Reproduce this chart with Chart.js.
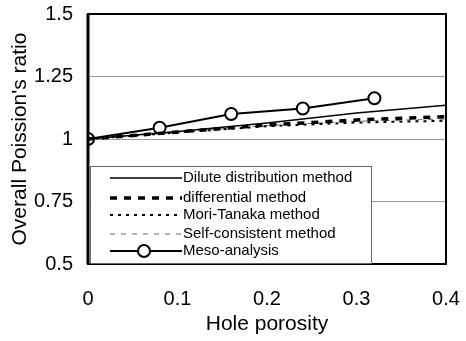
<!DOCTYPE html>
<html><head><meta charset="utf-8">
<script src="https://cdn.jsdelivr.net/npm/chart.js@4"></script>
<style>html,body{margin:0;padding:0;background:#fff}#wrap{width:466px;height:341px}</style>
</head><body><div id="wrap"><canvas id="c"></canvas></div>
<script>
const porosity = [0, 0.1, 0.2, 0.3, 0.4];
const dilute = [1.0, 1.030, 1.064, 1.104, 1.135];
const differential = [1.0, 1.028, 1.056, 1.076, 1.089];
const moriTanaka = [1.0, 1.026, 1.051, 1.066, 1.073];
const selfConsistent = [1.0, 1.027, 1.054, 1.071, 1.080];
const mesoPorosity = [0, 0.08, 0.16, 0.24, 0.32];
const meso = [1.0, 1.045, 1.100, 1.122, 1.163];
const seriesLabels = ['Dilute distribution method', 'differential method', 'Mori-Tanaka method', 'Self-consistent method', 'Meso-analysis'];
const xTicks = [0, 0.1, 0.2, 0.3, 0.4];
const yTicks = [0.5, 0.75, 1, 1.25, 1.5];

const pts = (xs, ys) => xs.map((x, i) => ({x, y: ys[i]}));
const FONT = "'Liberation Sans', Arial, sans-serif";

const boxPlugin = {
  id: 'box',
  afterDatasetsDraw(chart) {
    const {ctx, chartArea: a} = chart;
    ctx.save();
    ctx.strokeStyle = '#000';
    ctx.lineWidth = 2;
    ctx.strokeRect(a.left, a.top, a.right - a.left, a.bottom - a.top);
    ctx.lineWidth = 3;
    ctx.beginPath(); ctx.moveTo(a.left, a.top); ctx.lineTo(a.left, a.bottom); ctx.stroke();
    // legend box
    const lx = a.left + 2, lw = 281, lh = 98, ly = a.bottom - lh;
    ctx.fillStyle = '#fff';
    ctx.fillRect(lx, ly, lw, lh);
    ctx.lineWidth = 1;
    ctx.strokeStyle = '#666';
    ctx.strokeRect(lx + 0.5, ly + 0.5, lw, lh - 1);
    const rows = [178, 198, 215, 234, 251].map(v => v - 264 + a.bottom);
    ctx.font = '15px ' + FONT;
    ctx.textBaseline = 'middle';
    ctx.fillStyle = '#000';
    chart.data.datasets.forEach((ds, i) => {
      const y = rows[i];
      ctx.save();
      ctx.strokeStyle = ds.borderColor;
      ctx.lineWidth = ds.borderWidth;
      ctx.setLineDash(ds.borderDash || []);
      ctx.beginPath(); ctx.moveTo(lx + 20, y); ctx.lineTo(lx + 92, y); ctx.stroke();
      ctx.setLineDash([]);
      if (ds.pointRadius) {
        ctx.beginPath(); ctx.arc(lx + 54, y, ds.pointRadius, 0, Math.PI * 2);
        ctx.fillStyle = '#fff'; ctx.fill();
        ctx.strokeStyle = '#000'; ctx.lineWidth = ds.pointBorderWidth; ctx.stroke();
      }
      ctx.restore();
      ctx.fillText(ds.label, lx + 93, y);
    });
    ctx.restore();
  }
};

new Chart(document.getElementById('c'), {
  type: 'line',
  data: {
    datasets: [
      {label: seriesLabels[0], data: pts(porosity, dilute), borderColor: '#000', borderWidth: 1.5, pointRadius: 0},
      {label: seriesLabels[1], data: pts(porosity, differential), borderColor: '#000', borderWidth: 3.5, borderDash: [7, 7], pointRadius: 0},
      {label: seriesLabels[2], data: pts(porosity, moriTanaka), borderColor: '#000', borderWidth: 2, borderDash: [3, 5], pointRadius: 0},
      {label: seriesLabels[3], data: pts(porosity, selfConsistent), borderColor: '#666', borderWidth: 1, borderDash: [5, 6], pointRadius: 0},
      {label: seriesLabels[4], data: pts(mesoPorosity, meso), borderColor: '#000', borderWidth: 1.8, pointRadius: 6, pointBorderWidth: 2, pointBackgroundColor: '#fff', pointBorderColor: '#000'}
    ]
  },
  options: {
    responsive: true, maintainAspectRatio: false, animation: false,
    layout: {padding: {left: 0, right: 20, top: 14, bottom: 0}},
    plugins: {legend: {display: false}, tooltip: {enabled: false}},
    scales: {
      x: {
        type: 'linear', min: 0, max: 0.4,
        afterBuildTicks: s => { s.ticks = xTicks.map(v => ({value: v})); },
        afterFit: s => { s.height = 77; s.paddingRight = 0; s.paddingLeft = 0; },
        grid: {display: false, drawTicks: false},
        border: {display: false},
        ticks: {color: '#000', font: {family: FONT, size: 20}, padding: 23, maxRotation: 0, callback: v => String(v)},
        title: {display: true, text: 'Hole porosity', color: '#000', font: {family: FONT, size: 21}, padding: {top: 0, bottom: 4}}
      },
      y: {
        min: 0.5, max: 1.5,
        afterBuildTicks: s => { s.ticks = yTicks.map(v => ({value: v})); },
        afterFit: s => { s.width = 88; s.paddingTop = 0; s.paddingBottom = 0; },
        grid: {color: ctx => (ctx.tick && (ctx.tick.value === 1.5 || ctx.tick.value === 0.5)) ? 'rgba(0,0,0,0)' : '#9a9a9a', drawTicks: false, lineWidth: 1},
        border: {display: false},
        ticks: {color: '#000', font: {family: FONT, size: 20}, padding: 15, callback: v => String(v)},
        title: {display: true, text: "Overall Poission's ratio", color: '#000', font: {family: FONT, size: 21}, padding: {top: 8, bottom: 0}}
      }
    }
  },
  plugins: [boxPlugin]
});
</script></body></html>
